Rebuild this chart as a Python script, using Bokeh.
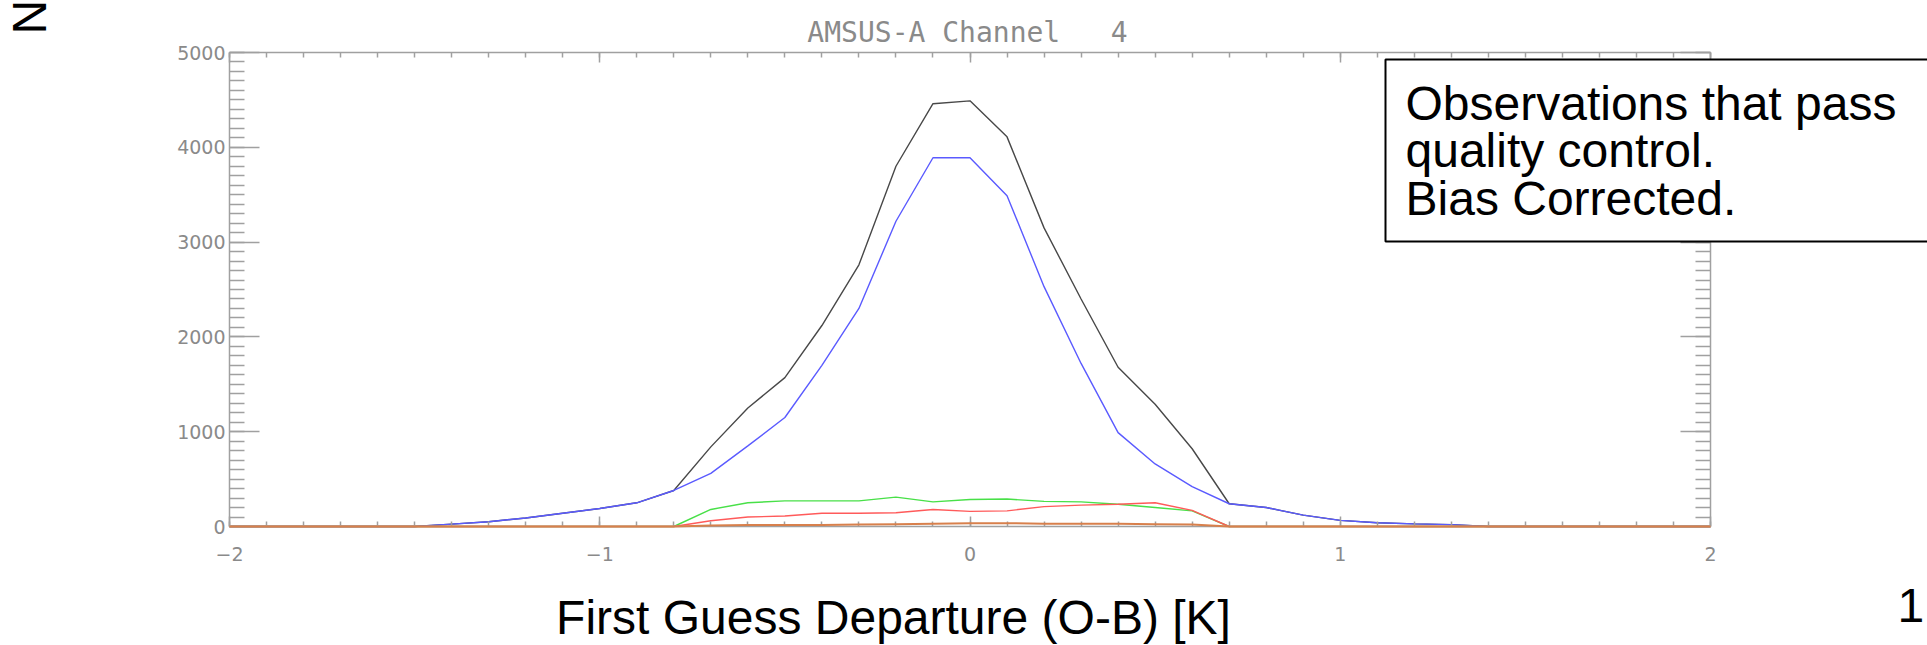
from bokeh.plotting import figure
from bokeh.models import (Range1d, LinearAxis, SingleIntervalTicker, Label,
                          CustomJSTickFormatter, BoxAnnotation)
from bokeh.embed import file_html
from bokeh.resources import INLINE

# ---- data (counts per 0.1 K bin of first guess departure) ----
bins = [round(-2.0 + 0.1 * i, 1) for i in range(41)]

all_obs = [0, 0, 0, 0, 0, 0,
           25, 50, 90, 140, 190, 250, 380, 840, 1250, 1570, 2120, 2760, 3800, 4460,
           4490, 4110, 3150, 2400, 1680, 1290, 820, 240, 200, 120, 65, 40, 28, 20,
           0, 0, 0, 0, 0, 0, 0]
used_obs = [0, 0, 0, 0, 0, 0,
            25, 50, 90, 140, 190, 250, 380, 560, 850, 1150, 1700, 2300, 3220, 3890,
            3890, 3490, 2530, 1720, 990, 660, 420, 240, 200, 120, 65, 40, 28, 20,
            0, 0, 0, 0, 0, 0, 0]
green_obs = [0, 0, 0, 0, 0, 0, 0, 0, 0, 0, 0, 0, 0,
             180, 250, 270, 270, 270, 310, 260, 285, 290, 265, 260, 235, 200, 165,
             0, 0, 0, 0, 0, 0, 0, 0, 0, 0, 0, 0, 0, 0]
red_obs = [0, 0, 0, 0, 0, 0, 0, 0, 0, 0, 0, 0, 0,
           60, 100, 110, 140, 140, 145, 180, 160, 165, 210, 225, 235, 250, 170,
           0, 0, 0, 0, 0, 0, 0, 0, 0, 0, 0, 0, 0, 0]
orange_obs = [0, 0, 0, 0, 0, 0, 0, 0, 0, 0, 0, 0, 0,
              10, 15, 15, 15, 20, 25, 30, 35, 35, 30, 30, 30, 25, 20,
              0, 0, 0, 0, 0, 0, 0, 0, 0, 0, 0, 0, 0, 0]

x_lo, x_hi = -2, 2
y_lo, y_hi = 0, 5000
title_text = "AMSUS-A Channel \u00a0\u00a04"
xlabel_text = "First Guess Departure (O-B) [K]"
ylabel_text = "N"
page_text = "1"
box_text = "Observations that pass\nquality control.\nBias Corrected."

# ---- layout (pixels in the 1927x645 page) ----
W, H = 1927, 645
FL, FR, FT, FB = 229, 1710, 52, 526       # plot-box edges
xs = (FR - FL) / (x_hi - x_lo)
ys = (FB - FT) / (y_hi - y_lo)

AXC = "#a0a0a0"
LBLC = "#8a8a8a"

p = figure(width=W, height=H, output_backend="svg", toolbar_location=None,
           x_range=Range1d(x_lo - FL / xs, x_hi + (W - FR) / xs),
           y_range=Range1d(y_lo - (H - FB) / ys, y_hi + FT / ys),
           min_border=0, x_axis_location=None, y_axis_location=None)
p.outline_line_color = None
p.xgrid.visible = False
p.ygrid.visible = False
p.background_fill_color = "white"
p.border_fill_color = "white"

minus_fmt = CustomJSTickFormatter(code="return tick < 0 ? '\\u2212' + Math.abs(tick) : tick.toFixed(0);")
blank_fmt = CustomJSTickFormatter(code="return '';")


def style_axis(ax, major, minor, labels=True):
    ax.axis_line_color = AXC
    ax.axis_line_width = 1.5
    ax.major_tick_line_color = AXC
    ax.minor_tick_line_color = AXC
    ax.major_tick_line_width = 1.5
    ax.minor_tick_line_width = 1.5
    ax.major_tick_in = major
    ax.major_tick_out = 0
    ax.minor_tick_in = minor
    ax.minor_tick_out = 0
    ax.major_label_text_color = LBLC
    ax.major_label_text_font = "DejaVu Sans"
    ax.major_label_text_font_size = "19px"
    if not labels:
        ax.formatter = blank_fmt


xt = SingleIntervalTicker(interval=1, num_minor_ticks=10)
yt = SingleIntervalTicker(interval=1000, num_minor_ticks=10)

bottom = LinearAxis(ticker=xt, formatter=minus_fmt, fixed_location=y_lo, bounds=(x_lo, x_hi))
style_axis(bottom, 10, 5)
bottom.major_label_standoff = 20
top = LinearAxis(ticker=xt, fixed_location=y_hi, bounds=(x_lo, x_hi))
style_axis(top, 10, 5, labels=False)
left = LinearAxis(ticker=yt, fixed_location=x_lo, bounds=(y_lo, y_hi))
style_axis(left, 30, 15)
left.major_label_standoff = 4
right = LinearAxis(ticker=yt, fixed_location=x_hi, bounds=(y_lo, y_hi))
style_axis(right, 30, 15, labels=False)

p.add_layout(bottom, "below")
p.add_layout(top, "above")
p.add_layout(left, "left")
p.add_layout(right, "right")

p.line(bins, all_obs, line_color="#484848", line_width=1.4)
p.line(bins, used_obs, line_color="#5a5aff", line_width=1.4)
p.line(bins, green_obs, line_color="#48e048", line_width=1.4)
p.line(bins, red_obs, line_color="#ff5a5a", line_width=1.4)
p.line(bins, orange_obs, line_color="#d8804c", line_width=2, level="overlay")


def lab(text, cx, cy, **kw):
    # cx, cy: page pixels from top-left
    opts = dict(x=cx, y=H - cy, x_units="screen", y_units="screen", text=text,
                text_baseline="alphabetic", text_font="Liberation Sans",
                text_font_size="48px", text_color="black")
    opts.update(kw)
    p.add_layout(Label(**opts))


lab(title_text, 967, 32, text_align="center", text_font="DejaVu Sans Mono",
    text_font_size="28px", text_color=LBLC)
lab(xlabel_text, 893, 617, text_align="center")
lab(ylabel_text, 29, 34, text_align="left", angle=90, angle_units="deg")
lab(page_text, 1897, 605, text_align="left")

p.add_layout(BoxAnnotation(left=1385, right=W + 20, top=H - 59, bottom=H - 241,
                           left_units="screen", right_units="screen",
                           top_units="screen", bottom_units="screen",
                           fill_color="white", fill_alpha=1.0,
                           line_color="black", line_alpha=1.0, line_width=2,
                           level="annotation"))
lab(box_text, 1405, 76, text_align="left", text_baseline="top", text_line_height=0.9)

open("out.html", "w").write(file_html(p, INLINE))
